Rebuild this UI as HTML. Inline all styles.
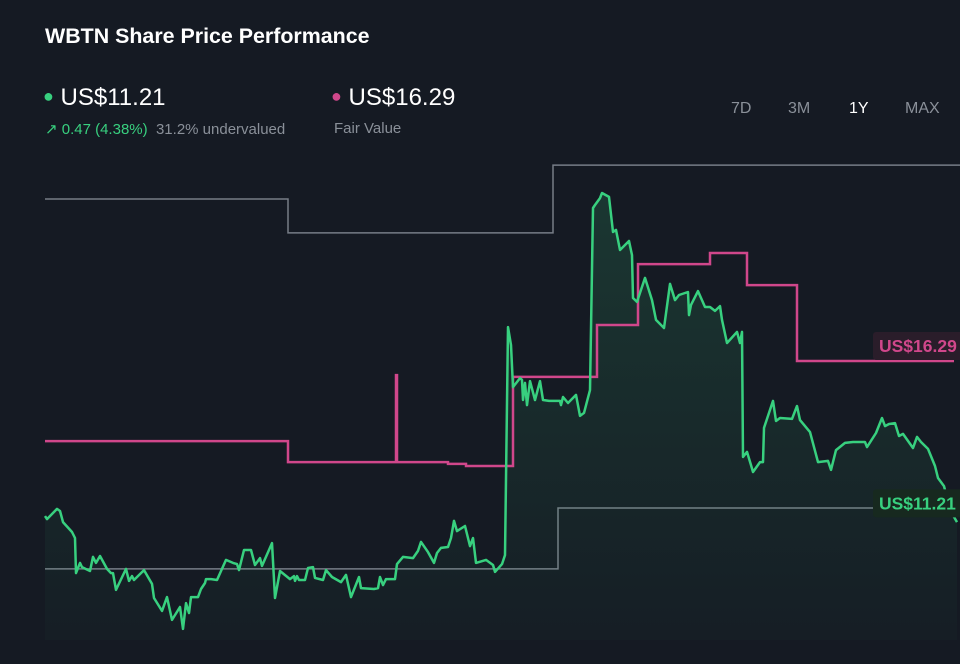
<!DOCTYPE html>
<html><head><meta charset="utf-8"><style>
body{margin:0;background:#151a23;width:960px;height:664px;overflow:hidden;font-family:"Liberation Sans",sans-serif;position:relative}
.t{position:absolute;white-space:nowrap}
</style></head><body>
<div class="t" style="left:45px;top:24px;font-size:21.4px;font-weight:bold;color:#fff">WBTN Share Price Performance</div>
<div class="t" style="left:43px;top:84px;font-size:24px;color:#fff"><span style="color:#38d07f;font-size:18px;vertical-align:3px">●</span> US$11.21</div>
<div class="t" style="left:45px;top:120px;font-size:15px;color:#38d07f">↗ 0.47 (4.38%) <span style="color:#8a9099">&nbsp;31.2% undervalued</span></div>
<div class="t" style="left:331px;top:84px;font-size:24px;color:#fff"><span style="color:#d0478b;font-size:18px;vertical-align:3px">●</span> US$16.29</div>
<div class="t" style="left:334px;top:120px;font-size:15px;color:#8a9099">Fair Value</div>
<div class="t" style="left:731px;top:100px;font-size:16px;color:#8a9099">7D</div>
<div class="t" style="left:788px;top:100px;font-size:16px;color:#8a9099">3M</div>
<div class="t" style="left:849px;top:100px;font-size:16px;color:#fff">1Y</div>
<div class="t" style="left:905px;top:100px;font-size:16px;color:#8a9099">MAX</div>
<svg id="c" width="960" height="664" style="position:absolute;left:0;top:0">
<defs><linearGradient id="g" x1="0" y1="0" x2="0" y2="1"><stop offset="0" stop-color="#38d07f" stop-opacity="0.16"/><stop offset="1" stop-color="#38d07f" stop-opacity="0.02"/></linearGradient></defs>
</svg>
<script>
const priceDays=[0,0.8,4.8,6,7.2,10.8,12,12.4,14,14.8,18,19.2,20.4,22,24.8,26.4,27.2,28.4,32.4,33.6,34.8,35.6,39.6,42.8,43.6,46.8,48.8,50.8,54,55.2,56.4,57.6,58.4,61.2,62.4,64,64.4,66.4,68.8,72.4,75.2,76.8,77.6,79.6,82.4,84,86,86.8,90.8,92,94,98,99.6,100,100.8,101.6,104,105.2,107.2,108,111.2,112.4,114.8,118.4,120.4,122.4,125.6,126.4,131.6,133.2,134,135.2,136.4,140,140.8,143.2,147.2,149.2,150.4,153.2,155.6,156.8,158.4,161.2,162.4,163.6,164.8,168,170,171.2,172.4,176.4,179.2,180,182.8,184,185.2,186.4,187.2,190,190.8,191.2,192,192.8,194,196,198,199.2,201.6,206,206.4,207.2,209.2,212.4,214,215.6,218,219.2,220,222,222.8,225.6,227.2,228.4,230,233.6,234.8,235.2,236.8,240,242.8,244.4,247.6,250,252,253.6,257.2,257.6,258.4,261.2,264,266,268,270,270.8,272.8,276.8,278,278.8,279.2,280.8,282.4,283.2,286,287.2,287.6,291.2,292.4,294,298.8,300.8,302,306,309.2,313.2,314.4,316.4,320,323.2,328,328.8,332.4,334.8,336,337.6,340,341.6,343.2,347.2,348.8,350.4,353.2,356,357.2,359.6,362,364.8];
const prices=[11.12,11.02,11.36,11.29,10.92,10.59,10.39,9.22,9.56,9.42,9.29,9.76,9.56,9.79,9.36,9.22,9.22,8.66,9.36,8.96,9.12,8.99,9.32,8.86,8.39,7.96,8.42,7.66,8.09,7.36,8.22,7.89,8.42,8.42,8.69,8.89,9.02,9.02,8.99,9.66,9.56,9.52,9.32,9.99,9.99,9.49,9.72,9.46,10.22,8.39,9.29,9.02,9.12,8.96,9.12,8.99,8.99,9.39,9.42,9.06,8.99,9.32,9.09,8.92,9.16,8.42,9.09,8.72,8.69,8.72,9.09,8.82,9.02,9.02,9.52,9.76,9.72,9.96,10.26,9.92,9.56,9.89,10.06,10.09,10.39,10.96,10.62,10.79,10.12,10.39,9.56,9.66,9.49,9.26,9.52,9.82,17.42,16.82,15.42,15.72,15.66,14.99,15.56,14.82,15.62,14.99,15.62,14.99,14.96,14.96,14.82,15.09,14.89,15.16,14.46,14.56,15.32,21.39,21.49,21.72,21.89,21.76,20.59,20.66,19.99,20.29,19.82,18.39,18.26,19.06,18.32,17.66,17.39,18.86,18.32,18.49,18.59,17.82,18.16,18.62,18.09,18.09,17.96,18.12,17.66,16.89,17.26,16.89,17.26,13.09,13.26,12.82,12.59,12.92,12.92,14.06,14.96,14.29,14.39,14.36,14.79,14.32,13.92,12.92,12.96,12.66,13.32,13.56,13.59,13.59,13.42,13.89,14.39,14.12,14.19,14.22,13.79,13.86,13.39,13.76,13.59,13.36,12.79,12.39,12.12,11.32,10.92];
const fvDays=[0,97.2,140.4,140.8,161.2,168.4,187.2,220.8,237.2,266,280.8,300.8];
const fvValues=[13.62,12.92,15.82,12.92,12.86,12.79,15.76,17.49,19.52,19.89,18.82,16.29];
const fvEnd=363.6;
const upperDays=[0,97.2,203.2];
const upperValues=[21.69,20.56,22.82];
const lowerDays=[0,205.2];
const lowerValues=[9.36,11.39];
const labelValues=[16.29,11.21];

const X=d=>45+d*2.5;
const Y=v=>361+(16.29-v)*30;
const svg=document.getElementById('c');
const NS='http://www.w3.org/2000/svg';
function mk(tag,attrs){const e=document.createElementNS(NS,tag);for(const k in attrs)e.setAttribute(k,attrs[k]);svg.appendChild(e);return e;}
function stepPath(ds,vs,end){let p='M'+X(ds[0])+' '+Y(vs[0]);for(let i=1;i<ds.length;i++){p+=' H'+X(ds[i])+' V'+Y(vs[i]);}return p+' H'+X(end);}

const up=mk('path',{d:stepPath(upperDays,upperValues,366),fill:'none',stroke:'#767c86','stroke-width':1.5});


const lo=mk('path',{d:stepPath(lowerDays,lowerValues,366),fill:'none',stroke:'#767c86','stroke-width':1.5});



const n=Math.min(priceDays.length,prices.length);
let lp='';for(let i=0;i<n;i++){lp+=(i?'L':'M')+X(priceDays[i]).toFixed(1)+' '+Y(prices[i]).toFixed(1)+' ';}
const area=mk('path',{d:lp+'L'+X(priceDays[n-1])+' 640 L'+X(0)+' 640 Z',fill:'url(#g)'});



const fv=mk('path',{d:stepPath(fvDays,fvValues,fvEnd),fill:'none',stroke:'#d0478b','stroke-width':2.5});



const pl=mk('path',{d:lp,fill:'none',stroke:'#38d07f','stroke-width':2.5,'stroke-linejoin':'round'});



const cols=['#d0478b','#38d07f'],bgs=['#2a1d2a','#17291f'],names=['fair-value-tag','price-tag'];
labelValues.forEach((v,i)=>{
  const y=Y(v)-(i?10:15);
  const r=mk('rect',{x:873,y:y-14,width:90,height:28,fill:bgs[i],rx:3});
  
  
  const t=mk('text',{x:879,y:y+6,fill:cols[i],'font-size':17.5,'font-weight':'bold','font-family':'Liberation Sans, sans-serif'});
  t.textContent='US$'+v.toFixed(2);
  
  
});
</script>
</body></html>
